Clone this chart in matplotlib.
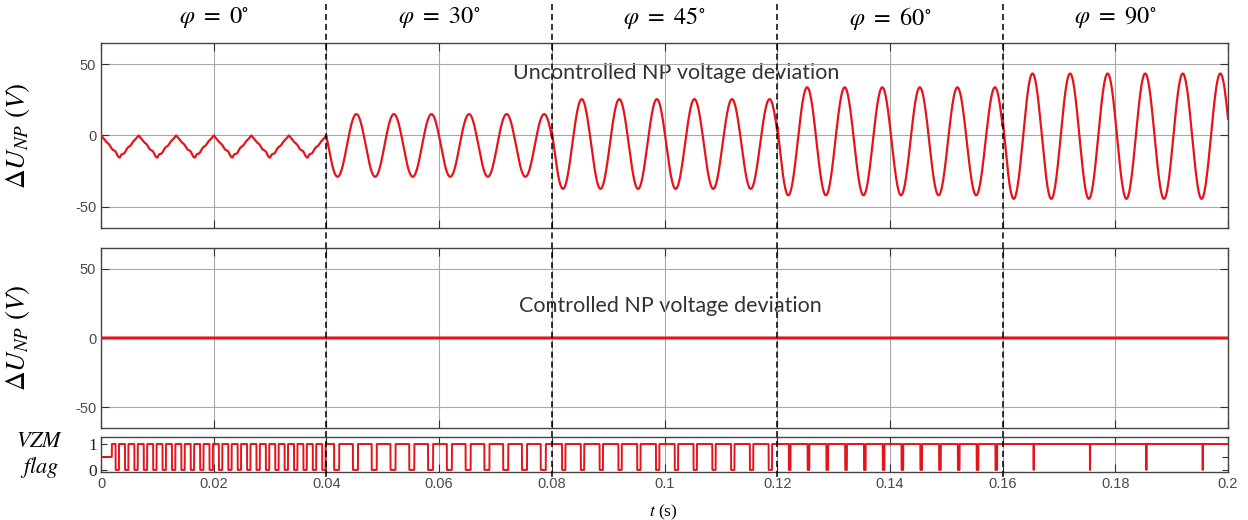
import numpy as np
import matplotlib
matplotlib.use('Agg')
import matplotlib.pyplot as plt
from matplotlib.transforms import blended_transform_factory

plt.rcParams['mathtext.fontset'] = 'stix'

### segment definitions
seg_edges = [0.0, 0.04, 0.08, 0.12, 0.16, 0.20]
phase_deg = [0, 30, 45, 60, 90]

# uncontrolled NP deviation: max / min of the 150 Hz oscillation in each segment (V)
dev_max = [0.0, 15.0, 25.5, 33.8, 43.5]
dev_min = [-15.5, -29.0, -37.5, -42.0, -44.5]
osc_freq = 150.0
peak_delay = 0.0053  # first peak after segment start (s)

# controlled NP deviation (V)
ctrl_level = [0.0, 0.0, 0.0, 0.0, 0.0]

# VZM flag: dip rate, first dip centre and dip width for each segment
flag_rate = [600.0, 300.0, 300.0, 300.0, 100.0]
flag_first = [0.0012, 0.0418, 0.0821, 0.1222, 0.1655]
flag_width = [0.0006, 0.0009, 0.0006, 0.0003, 0.00005]
flag_init = 0.5      # initial flag value until first switching
flag_init_end = 0.0019

xticks = [0, 0.02, 0.04, 0.06, 0.08, 0.1, 0.12, 0.14, 0.16, 0.18, 0.2]
xticklabels = ['0', '0.02', '0.04', '0.06', '0.08', '0.1', '0.12', '0.14', '0.16', '0.18', '0.2']

red = '#e5131b'
tick_col = '#4a4a4a'
grid_col = '#a8a8a8'

### build signals
t = np.linspace(0, 0.2, 200001)
dev = np.zeros_like(t)
ctrl = np.zeros_like(t)
flag = np.ones_like(t)
for i in range(5):
    a, b = seg_edges[i], seg_edges[i + 1]
    m = (t >= a) & (t <= b)
    ts = t[m] - a
    if phase_deg[i] == 0:
        # triangular ripple between 0 and the minimum
        frac = (ts * osc_freq) % 1.0
        tri = 1 - np.abs(2 * frac - 1)
        dev[m] = dev_min[i] * tri + 0.8 * np.sin(2 * np.pi * 6 * osc_freq * ts) * tri
    else:
        off = 0.5 * (dev_max[i] + dev_min[i])
        amp = 0.5 * (dev_max[i] - dev_min[i])
        dev[m] = off + amp * np.cos(2 * np.pi * osc_freq * (ts - peak_delay))
    ctrl[m] = ctrl_level[i]
    c = flag_first[i]
    while c < b:
        flag[(t >= c - flag_width[i] / 2) & (t <= c + flag_width[i] / 2)] = 0
        c += 1.0 / flag_rate[i]
flag[t < flag_init_end] = flag_init

### plotting
fig = plt.figure(figsize=(12.48, 5.2), dpi=100)
ax1 = fig.add_axes([0.081, 0.5615, 0.903, 0.356])
ax2 = fig.add_axes([0.081, 0.177, 0.903, 0.346])
ax3 = fig.add_axes([0.081, 0.0923, 0.903, 0.0673])

for ax in (ax1, ax2, ax3):
    ax.set_xlim(0, 0.2)
    ax.set_xticks(xticks)
    ax.tick_params(direction='in', top=True, right=True, length=6, width=0.8,
                   colors='#333333', labelcolor=tick_col, labelsize=10.5)
    ax.grid(True, axis='x', color=grid_col, linewidth=0.8)
    for s in ax.spines.values():
        s.set_color('#444444')
        s.set_linewidth(1.0)
    for lab in ax.get_xticklabels() + ax.get_yticklabels():
        lab.set_fontfamily('Liberation Sans')

for ax in (ax1, ax2):
    ax.set_ylim(-65, 65)
    ax.set_yticks([-50, 0, 50])
    ax.set_yticklabels(['-50', '0', '50'])
    ax.grid(True, axis='y', color=grid_col, linewidth=0.8)
    ax.set_xticklabels([])
    ax.set_ylabel(r'$\Delta U_{NP}\ (V)$', fontsize=19.5)
    ax.yaxis.set_label_coords(-0.061, 0.5)
    for lab in ax.get_yticklabels():
        lab.set_fontfamily('Liberation Sans')

ax1.plot(t, dev, color=red, linewidth=1.6, zorder=3)
ax1.text(0.102, 44, 'Uncontrolled NP voltage deviation', ha='center', va='center',
         fontsize=15.5, family='Lato', color='#333333', zorder=1)

ax2.plot(t, ctrl, color=red, linewidth=2.2, zorder=3)
ax2.text(0.101, 23, 'Controlled NP voltage deviation', ha='center', va='center',
         fontsize=15.5, family='Lato', color='#333333', zorder=1)

ax3.plot(t, flag, color=red, linewidth=1.4, zorder=3)
ax3.set_ylim(-0.08, 1.27)
ax3.set_yticks([0, 0.5, 1])
ax3.set_yticklabels(['0', '', '1'], family='Liberation Serif', fontsize=12.5, color='#222222')
ax3.set_xticklabels(xticklabels, family='Liberation Sans')
ax3.tick_params(axis='y', length=4, pad=3)

fig.text(0.032, 1 - 441 / 520, r'$VZM$', ha='center', va='center', fontsize=16)
fig.text(0.032, 1 - 467 / 520, r'$flag$', ha='center', va='center', fontsize=16)
fig.text(663 / 1248, 1 - 512 / 520, r'$t$ (s)', ha='center', va='center',
         fontsize=12.5, family='Liberation Serif')

### phase labels and segment separators
trans = blended_transform_factory(ax1.transData, fig.transFigure)
for i in range(5):
    xm = 0.5 * (seg_edges[i] + seg_edges[i + 1])
    fig.text(xm, 1 - 18 / 520, r'$\varphi\ =\ %d^{\circ}$' % phase_deg[i], transform=trans,
             ha='center', va='center', fontsize=17.5)
for x in seg_edges[1:-1]:
    fig.add_artist(plt.Line2D([x, x], [1 - 4 / 520, 1 - 478 / 520], transform=trans,
                              color='black', linewidth=1.1, linestyle=(0, (4, 2.5)), zorder=5))

plt.savefig('out.png', dpi=100)
